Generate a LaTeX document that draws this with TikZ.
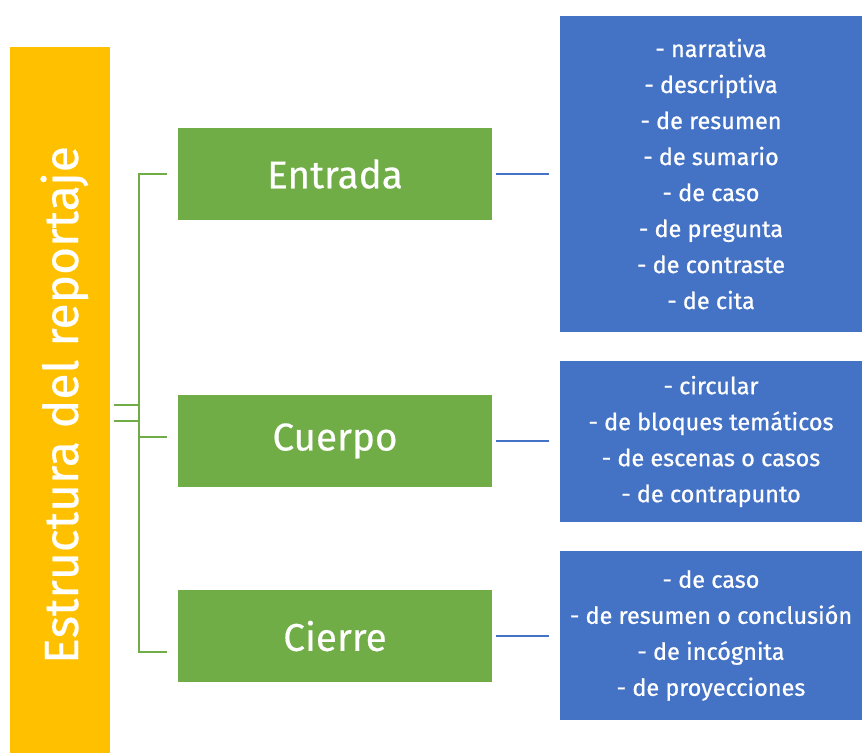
\documentclass[tikz,border=0pt]{standalone}
\usepackage{fontspec}
\setmainfont{Fira Sans}
\newfontfamily\fmed{Fira Sans}[FakeBold=0.8]
\newfontfamily\fbook{Fira Sans}[FakeBold=0.4]
\definecolor{yel}{HTML}{FFC000}
\definecolor{grn}{HTML}{70AD47}
\definecolor{blu}{HTML}{4472C4}
\begin{document}
\begin{tikzpicture}[x=0.75pt,y=-0.75pt,
  catbox/.style={fill=grn, text=white, minimum width=235.5pt, minimum height=69pt, inner sep=0pt, font=\fbook\fontsize{29}{30}\selectfont},
  listbox/.style={fill=blu, text=white, minimum width=226.5pt, inner sep=0pt, align=center, font=\fmed\fontsize{17.6}{27}\selectfont},
  gline/.style={draw=grn, line width=1.6pt},
  bline/.style={draw=blu, line width=1.6pt}]
\useasboundingbox[fill=white] (0,0) rectangle (862,753);
% yellow bar
\node[fill=yel, minimum width=75pt, minimum height=529.5pt, inner sep=0pt] (bar) at (60,400) {};
\node[rotate=90, anchor=base, text=white, font=\fbook\fontsize{36}{38}\selectfont] (title) at (78,405) {Estructura del reportaje};
% green boxes
\node[catbox] (e) at (335,174) {Entrada};
\node[catbox] (c) at (335,441) {Cuerpo};
\node[catbox] (ci) at (335,636) {Cierre};
% blue boxes
\node[listbox, minimum height=237pt] (l1) at (711,174) {- narrativa\\- descriptiva\\- de resumen\\- de sumario\\- de caso\\- de pregunta\\- de contraste\\- de cita};
\node[listbox, minimum height=120.75pt] (l2) at (711,441.5) {- circular\\- de bloques temáticos\\- de escenas o casos\\- de contrapunto};
\node[listbox, minimum height=126.75pt] (l3) at (711,635.5) {- de caso\\- de resumen o conclusión\\- de incógnita\\- de proyecciones};
% blue connectors
\draw[bline] ([xshift=3pt]e.east) -- ([xshift=-8.25pt]l1.west |- e.east);
\draw[bline] ([xshift=3pt]c.east) -- ([xshift=-8.25pt]l2.west |- c.east);
\draw[bline] ([xshift=3pt]ci.east) -- ([xshift=-8.25pt]l3.west |- ci.east);
% green bracket
\coordinate (bt) at (167,174);
\coordinate (bm) at (167,437);
\coordinate (bb) at (167,652);
\coordinate (v1) at (139,437);
\coordinate (s1) at (114,405);
\coordinate (s2) at (114,421);
\draw[gline] (bt) -| (139,652) -- (bb);
\draw[gline] (v1) -- (bm);
\draw[gline] (s1) -- (s1 -| v1);
\draw[gline] (s2) -- (s2 -| v1);
\end{tikzpicture}
\end{document}
